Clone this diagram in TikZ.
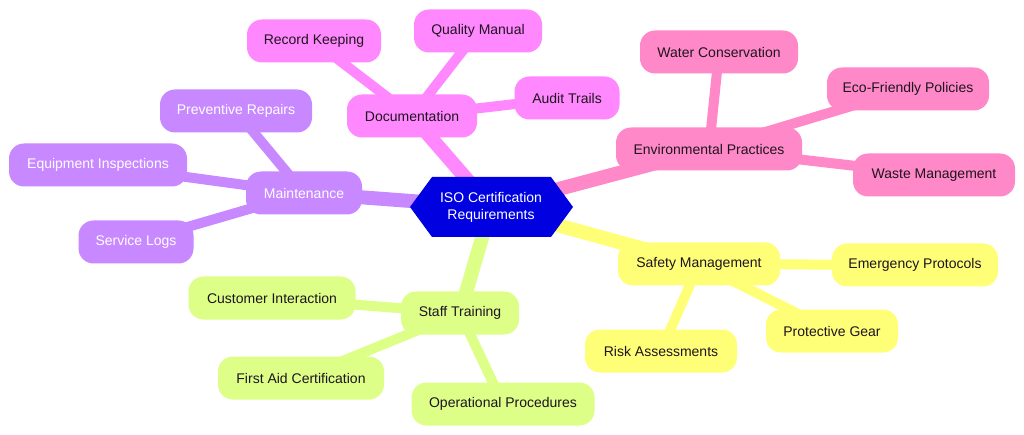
\documentclass[tikz,border=0pt]{standalone}
\usepackage{fontspec}
\setmainfont{Liberation Sans}
\usetikzlibrary{backgrounds}
\definecolor{docc}{RGB}{255,136,255}
\definecolor{envc}{RGB}{255,136,200}
\definecolor{mntc}{RGB}{200,136,255}
\definecolor{stfc}{RGB}{221,255,136}
\definecolor{safc}{RGB}{255,255,119}
\definecolor{rootc}{RGB}{0,0,225}
\definecolor{txtc}{RGB}{30,20,30}
\tikzset{
  leaf/.style={rounded corners=15pt, minimum height=43pt, inner sep=0pt, font=\fontsize{14}{16}\selectfont, text=txtc},
  docb/.style={leaf, fill=docc},
  envb/.style={leaf, fill=envc},
  mntb/.style={leaf, fill=mntc, text=white},
  stfb/.style={leaf, fill=stfc},
  safb/.style={leaf, fill=safc},
  mainline/.style={line width=14pt},
  subline/.style={line width=10pt},
}
\begin{document}
\begin{tikzpicture}[x=1pt,y=-1pt]
\useasboundingbox (0,0) rectangle (1024,435);
% root hexagon
\fill[rootc] (410,207) -- (432,177) -- (551,177) -- (573,207) -- (551,237) -- (432,237) -- cycle;
\node[text=white, align=center, font=\fontsize{14}{17}\selectfont] (root) at (491,207) {ISO Certification\\Requirements};
% documentation
\node[docb, minimum width=130pt] (doc) at (412,116) {Documentation};
\node[docb, minimum width=134pt] (rec) at (314,41) {Record Keeping};
\node[docb, minimum width=128pt] (qual) at (478,31) {Quality Manual};
\node[docb, minimum width=105pt] (aud) at (567,98) {Audit Trails};
% environmental
\node[envb, minimum width=186pt] (env) at (709,149) {Environmental Practices};
\node[envb, minimum width=158pt] (wat) at (719,52) {Water Conservation};
\node[envb, minimum width=162pt] (eco) at (908,89) {Eco-Friendly Policies};
\node[envb, minimum width=162pt] (was) at (934,175) {Waste Management};
% maintenance
\node[mntb, minimum width=116pt] (mnt) at (304,193) {Maintenance};
\node[mntb, minimum width=152pt] (prev) at (236,111) {Preventive Repairs};
\node[mntb, minimum width=178pt] (equ) at (98,165) {Equipment Inspections};
\node[mntb, minimum width=115pt] (serv) at (136,242) {Service Logs};
% staff
\node[stfb, minimum width=118pt] (stf) at (460,313) {Staff Training};
\node[stfb, minimum width=167pt] (cus) at (272,298) {Customer Interaction};
\node[stfb, minimum width=166pt] (fa) at (301,378) {First Aid Certification};
\node[stfb, minimum width=183pt] (op) at (503,404) {Operational Procedures};
% safety
\node[safb, minimum width=162pt] (saf) at (699,264) {Safety Management};
\node[safb, minimum width=166pt] (emg) at (915,265) {Emergency Protocols};
\node[safb, minimum width=132pt] (prot) at (832,331) {Protective Gear};
\node[safb, minimum width=152pt] (risk) at (661,351) {Risk Assessments};
\begin{pgfonlayer}{background}
\fill[white] (0,0) rectangle (1024,435);
\draw[mainline, docc] (root.center) -- (doc.center);
\draw[subline, docc] (doc.center) -- (rec.center);
\draw[subline, docc] (doc.center) -- (qual.center);
\draw[subline, docc] (doc.center) -- (aud.center);
\draw[mainline, envc] (root.center) -- (env.center);
\draw[subline, envc] (env.center) -- (wat.center);
\draw[subline, envc] (env.center) -- (eco.center);
\draw[subline, envc] (env.center) -- (was.center);
\draw[mainline, mntc] (root.center) -- (mnt.center);
\draw[subline, mntc] (mnt.center) -- (prev.center);
\draw[subline, mntc] (mnt.center) -- (equ.center);
\draw[subline, mntc] (mnt.center) -- (serv.center);
\draw[mainline, stfc] (root.center) -- (stf.center);
\draw[subline, stfc] (stf.center) -- (cus.center);
\draw[subline, stfc] (stf.center) -- (fa.center);
\draw[subline, stfc] (stf.center) -- (op.center);
\draw[mainline, safc] (root.center) -- (saf.center);
\draw[subline, safc] (saf.center) -- (emg.center);
\draw[subline, safc] (saf.center) -- (prot.center);
\draw[subline, safc] (saf.center) -- (risk.center);
\end{pgfonlayer}
\end{tikzpicture}
\end{document}
